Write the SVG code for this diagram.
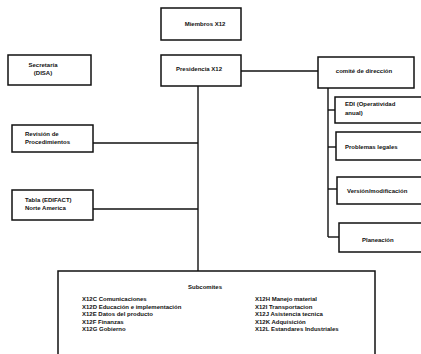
<svg xmlns="http://www.w3.org/2000/svg" width="421" height="354" viewBox="0 0 421 354">
<style>
.box{fill:#fff;stroke:#111;stroke-width:1.5}
.ln{fill:none;stroke:#111;stroke-width:1.4}
text{font-family:"Liberation Sans",Arial,sans-serif;font-weight:bold;font-size:6px;fill:#111}
.c{text-anchor:middle}
</style>
<rect width="421" height="354" fill="#fff"/>
<g id="connectors">
<path class="ln" d="M241,71 H318"/>
<path class="ln" d="M198,86 V271"/>
<path class="ln" d="M93,143 H198"/>
<path class="ln" d="M93,209 H198"/>
<path class="ln" d="M328,88 V237"/>
<path class="ln" d="M328,110 H335"/>
<path class="ln" d="M328,147 H336"/>
<path class="ln" d="M328,189 H337"/>
<path class="ln" d="M328,237 H339"/>
</g>
<g id="miembros"><rect class="box" x="161" y="8" width="80" height="32"/><text class="c" x="205" y="26">Miembros X12</text></g>
<g id="secretaria"><rect class="box" x="8" y="55" width="83" height="30"/><text class="c" x="43" y="67">Secretaría</text><text class="c" x="43" y="75">(DISA)</text></g>
<g id="presidencia"><rect class="box" x="161" y="55" width="80" height="31"/><text class="c" x="199" y="71">Presidencia X12</text></g>
<g id="comite"><rect class="box" x="318" y="57" width="96" height="31"/><text class="c" x="364" y="73">comité de dirección</text></g>
<g id="edi"><rect class="box" x="335" y="97" width="88" height="26"/><text x="345" y="106">EDI (Operatividad</text><text x="345" y="115">anual)</text></g>
<g id="problemas"><rect class="box" x="336" y="132" width="87" height="28"/><text x="345" y="149">Problemas legales</text></g>
<g id="version"><rect class="box" x="337" y="177" width="86" height="27"/><text x="347" y="193">Versión/modificación</text></g>
<g id="planeacion"><rect class="box" x="339" y="223" width="84" height="29"/><text x="362" y="242">Planeación</text></g>
<g id="revision"><rect class="box" x="12" y="125" width="81" height="27"/><text x="25" y="136">Revisión de</text><text x="25" y="144">Procedimientos</text></g>
<g id="tabla"><rect class="box" x="12" y="190" width="81" height="30"/><text x="25" y="202">Tabla (EDIFACT)</text><text x="25" y="210">Norte America</text></g>
<g id="subcomites"><rect class="box" x="58" y="271" width="317" height="90"/>
<text x="188" y="289">Subcomites</text>
<text x="82" y="301">X12C Comunicaciones</text>
<text x="82" y="308.5">X12D Educación e implementación</text>
<text x="82" y="316">X12E Datos del producto</text>
<text x="82" y="323.5">X12F Finanzas</text>
<text x="82" y="331">X12G Gobierno</text>
<text x="255" y="301">X12H Manejo material</text>
<text x="255" y="308.5">X12I  Transportacion</text>
<text x="255" y="316">X12J Asistencia tecnica</text>
<text x="255" y="323.5">X12K Adquisición</text>
<text x="255" y="331">X12L Estandares Industriales</text>
</g>
</svg>
